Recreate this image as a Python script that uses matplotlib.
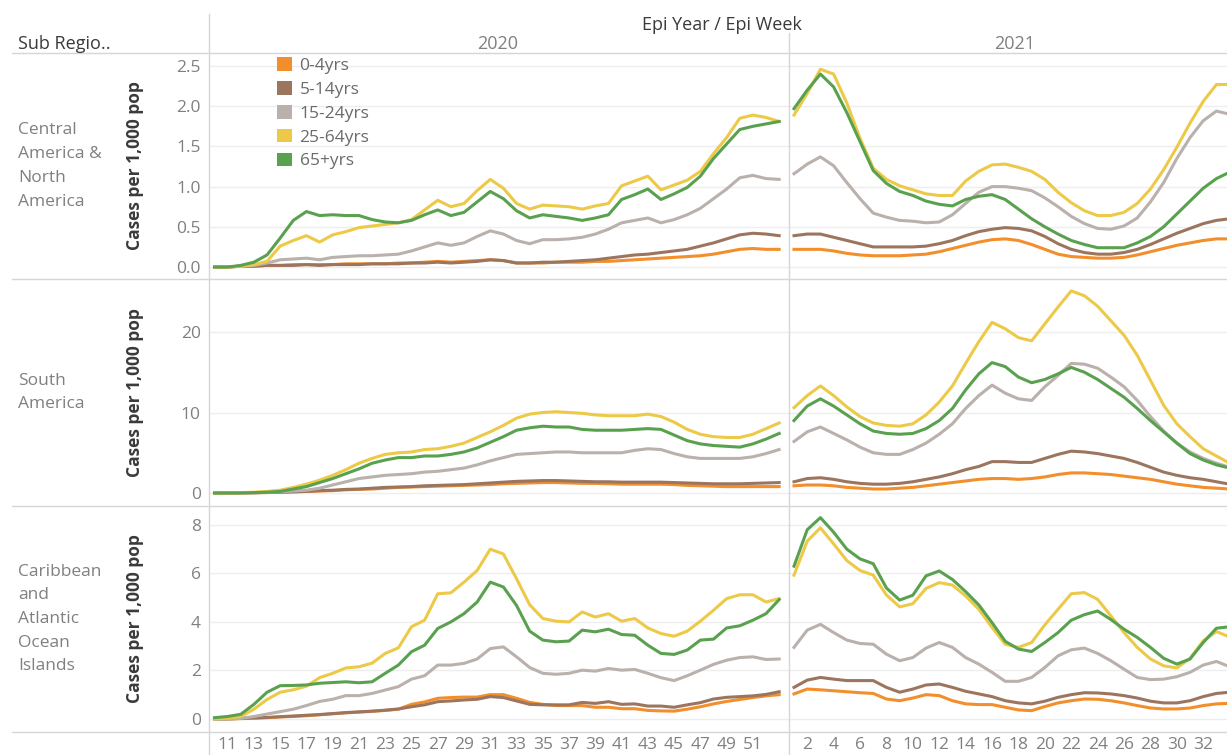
import matplotlib.pyplot as plt
from matplotlib.patches import Patch
from matplotlib.lines import Line2D

# epi weeks shown in each year panel
weeks_2020 = list(range(10, 54))
weeks_2021 = list(range(1, 35))
ticks_2020 = list(range(11, 52, 2))
ticks_2021 = list(range(2, 33, 2))

age_groups = ["0-4yrs", "5-14yrs", "15-24yrs", "25-64yrs", "65+yrs"]
age_colors = ["#F28E2B", "#9C755F", "#BAB0AC", "#EDC948", "#59A14F"]
regions = ["Central\nAmerica &\nNorth\nAmerica", "South\nAmerica",
           "Caribbean\nand\nAtlantic\nOcean\nIslands"]

# Central America & North America, cases per 1,000 pop
cana_2020_a0 = [0.0, 0.0, 0.01, 0.01, 0.02, 0.02, 0.03, 0.03, 0.03, 0.03, 0.04, 0.04, 0.04, 0.04, 0.05,
                0.05, 0.06, 0.07, 0.06, 0.07, 0.08, 0.09, 0.08, 0.05, 0.05, 0.05, 0.06, 0.06, 0.06, 0.07,
                0.07, 0.08, 0.09, 0.10, 0.11, 0.12, 0.13, 0.14, 0.16, 0.19, 0.22, 0.23, 0.22, 0.22]
cana_2020_a5 = [0.0, 0.0, 0.01, 0.01, 0.02, 0.02, 0.02, 0.03, 0.02, 0.03, 0.03, 0.03, 0.04, 0.04, 0.04,
                0.05, 0.05, 0.06, 0.05, 0.06, 0.07, 0.09, 0.08, 0.05, 0.05, 0.06, 0.06, 0.07, 0.08, 0.09,
                0.11, 0.13, 0.15, 0.16, 0.18, 0.20, 0.22, 0.26, 0.30, 0.35, 0.40, 0.42, 0.41, 0.39]
cana_2020_a15 = [0.0, 0.0, 0.01, 0.02, 0.05, 0.09, 0.10, 0.11, 0.09, 0.12, 0.13, 0.14, 0.14, 0.15, 0.16,
                 0.20, 0.25, 0.30, 0.27, 0.30, 0.38, 0.45, 0.41, 0.33, 0.29, 0.34, 0.34, 0.35, 0.37, 0.41,
                 0.47, 0.55, 0.58, 0.61, 0.55, 0.59, 0.65, 0.73, 0.85, 0.97, 1.11, 1.14, 1.10, 1.09]
cana_2020_a25 = [0.0, 0.0, 0.01, 0.03, 0.07, 0.26, 0.33, 0.39, 0.31, 0.40, 0.44, 0.49, 0.51, 0.53, 0.55,
                 0.59, 0.71, 0.83, 0.75, 0.79, 0.95, 1.09, 0.98, 0.79, 0.72, 0.77, 0.76, 0.75, 0.72, 0.76,
                 0.79, 1.01, 1.07, 1.13, 0.96, 1.02, 1.08, 1.19, 1.41, 1.61, 1.85, 1.89, 1.86, 1.81]
cana_2020_a65 = [0.0, 0.0, 0.02, 0.06, 0.15, 0.36, 0.58, 0.69, 0.64, 0.65, 0.64, 0.64, 0.59, 0.56, 0.55,
                 0.58, 0.65, 0.71, 0.64, 0.68, 0.81, 0.94, 0.85, 0.70, 0.61, 0.65, 0.63, 0.61, 0.58, 0.61,
                 0.65, 0.84, 0.90, 0.97, 0.84, 0.91, 0.99, 1.13, 1.35, 1.53, 1.71, 1.75, 1.78, 1.81]
cana_2021_a0 = [0.22, 0.22, 0.22, 0.20, 0.17, 0.15, 0.14, 0.14, 0.14, 0.15, 0.16, 0.19, 0.23, 0.27, 0.31,
                0.34, 0.35, 0.33, 0.28, 0.22, 0.16, 0.13, 0.12, 0.11, 0.11, 0.12, 0.15, 0.19, 0.23, 0.27,
                0.30, 0.33, 0.35, 0.35]
cana_2021_a5 = [0.39, 0.41, 0.41, 0.37, 0.33, 0.29, 0.25, 0.25, 0.25, 0.25, 0.26, 0.29, 0.33, 0.39, 0.44,
                0.47, 0.49, 0.48, 0.45, 0.38, 0.29, 0.22, 0.18, 0.16, 0.16, 0.18, 0.22, 0.28, 0.35, 0.42,
                0.48, 0.54, 0.58, 0.60]
cana_2021_a15 = [1.16, 1.28, 1.37, 1.26, 1.05, 0.85, 0.67, 0.62, 0.58, 0.57, 0.55, 0.56, 0.65, 0.79, 0.93,
                 1.00, 1.00, 0.98, 0.95, 0.86, 0.75, 0.63, 0.54, 0.48, 0.47, 0.51, 0.61, 0.81, 1.05, 1.35,
                 1.61, 1.82, 1.94, 1.90]
cana_2021_a25 = [1.89, 2.16, 2.46, 2.40, 2.04, 1.60, 1.23, 1.09, 1.01, 0.96, 0.91, 0.89, 0.89, 1.07, 1.19,
                 1.27, 1.28, 1.24, 1.19, 1.09, 0.93, 0.80, 0.70, 0.64, 0.64, 0.68, 0.79, 0.97, 1.21, 1.49,
                 1.79, 2.06, 2.27, 2.27]
cana_2021_a65 = [1.97, 2.20, 2.40, 2.24, 1.92, 1.56, 1.20, 1.04, 0.94, 0.89, 0.82, 0.78, 0.76, 0.84, 0.88,
                 0.90, 0.84, 0.72, 0.60, 0.50, 0.41, 0.33, 0.28, 0.24, 0.24, 0.24, 0.30, 0.38, 0.50, 0.66,
                 0.82, 0.98, 1.10, 1.18]

# South America
sa_2020_a0 = [0.0, 0.0, 0.02, 0.04, 0.06, 0.1, 0.15, 0.2, 0.25, 0.3, 0.4, 0.45, 0.5, 0.6, 0.7,
              0.75, 0.8, 0.85, 0.9, 0.95, 1.0, 1.05, 1.15, 1.2, 1.25, 1.3, 1.3, 1.25, 1.2, 1.2,
              1.15, 1.1, 1.1, 1.1, 1.1, 1.05, 0.95, 0.9, 0.85, 0.8, 0.8, 0.8, 0.8, 0.8]
sa_2020_a5 = [0.0, 0.0, 0.02, 0.04, 0.07, 0.1, 0.15, 0.2, 0.3, 0.35, 0.45, 0.5, 0.6, 0.7, 0.75,
              0.8, 0.9, 0.95, 1.0, 1.05, 1.15, 1.25, 1.35, 1.45, 1.5, 1.55, 1.55, 1.5, 1.45, 1.4,
              1.4, 1.35, 1.35, 1.35, 1.35, 1.3, 1.25, 1.2, 1.15, 1.15, 1.15, 1.2, 1.25, 1.3]
sa_2020_a15 = [0.0, 0.0, 0.02, 0.05, 0.1, 0.15, 0.25, 0.35, 0.6, 1.0, 1.4, 1.8, 2.0, 2.2, 2.3,
               2.4, 2.6, 2.7, 2.9, 3.1, 3.5, 4.0, 4.4, 4.8, 4.9, 5.0, 5.1, 5.1, 5.0, 5.0,
               5.0, 5.0, 5.3, 5.5, 5.4, 4.9, 4.5, 4.3, 4.3, 4.3, 4.3, 4.5, 4.9, 5.4]
sa_2020_a25 = [0.0, 0.0, 0.05, 0.1, 0.2, 0.35, 0.7, 1.1, 1.6, 2.2, 2.9, 3.7, 4.3, 4.8, 5.0,
               5.1, 5.4, 5.5, 5.8, 6.2, 6.9, 7.6, 8.4, 9.3, 9.8, 10.0, 10.1, 10.0, 9.9, 9.7,
               9.6, 9.6, 9.6, 9.8, 9.5, 8.8, 7.9, 7.3, 7.0, 6.9, 6.9, 7.3, 8.0, 8.7]
sa_2020_a65 = [0.0, 0.0, 0.02, 0.05, 0.1, 0.2, 0.5, 0.8, 1.3, 1.8, 2.4, 3.0, 3.7, 4.1, 4.4,
               4.4, 4.6, 4.6, 4.8, 5.1, 5.6, 6.3, 7.0, 7.8, 8.1, 8.3, 8.2, 8.2, 7.9, 7.8,
               7.8, 7.8, 7.9, 8.0, 7.9, 7.2, 6.5, 6.1, 5.9, 5.8, 5.7, 6.1, 6.7, 7.4]
sa_2021_a0 = [0.9, 1.0, 1.0, 0.9, 0.7, 0.6, 0.5, 0.5, 0.6, 0.7, 0.9, 1.1, 1.3, 1.5, 1.7,
              1.8, 1.8, 1.7, 1.8, 2.0, 2.3, 2.5, 2.5, 2.4, 2.3, 2.1, 1.9, 1.7, 1.4, 1.1,
              0.9, 0.7, 0.6, 0.5]
sa_2021_a5 = [1.4, 1.8, 1.9, 1.7, 1.4, 1.2, 1.1, 1.1, 1.2, 1.4, 1.7, 2.0, 2.4, 2.9, 3.3,
              3.9, 3.9, 3.8, 3.8, 4.3, 4.8, 5.2, 5.1, 4.9, 4.6, 4.3, 3.8, 3.2, 2.6, 2.2,
              1.9, 1.7, 1.4, 1.1]
sa_2021_a15 = [6.4, 7.6, 8.2, 7.4, 6.6, 5.7, 5.0, 4.8, 4.8, 5.4, 6.2, 7.3, 8.6, 10.5, 12.1,
               13.4, 12.4, 11.7, 11.5, 13.2, 14.6, 16.1, 16.0, 15.5, 14.4, 13.2, 11.5, 9.5, 7.7, 6.2,
               5.1, 4.3, 3.7, 3.2]
sa_2021_a25 = [10.6, 12.1, 13.3, 12.1, 10.7, 9.5, 8.7, 8.4, 8.3, 8.6, 9.7, 11.3, 13.3, 16.1, 18.8,
               21.2, 20.4, 19.3, 18.9, 21.0, 23.1, 25.1, 24.5, 23.2, 21.4, 19.6, 17.1, 14.0, 10.9, 8.6,
               7.0, 5.5, 4.6, 3.7]
sa_2021_a65 = [9.0, 10.8, 11.7, 10.8, 9.7, 8.6, 7.7, 7.4, 7.3, 7.4, 8.0, 9.0, 10.5, 12.8, 14.8,
               16.2, 15.7, 14.4, 13.7, 14.1, 14.8, 15.6, 15.0, 14.1, 13.0, 11.9, 10.5, 9.0, 7.6, 6.2,
               4.9, 4.1, 3.5, 3.1]

# Caribbean and Atlantic Ocean Islands
car_2020_a0 = [0.0, 0.0, 0.01, 0.03, 0.05, 0.08, 0.1, 0.13, 0.17, 0.21, 0.25, 0.28, 0.31, 0.35, 0.4,
               0.6, 0.7, 0.85, 0.88, 0.9, 0.9, 1.0, 1.0, 0.85, 0.68, 0.6, 0.55, 0.55, 0.55, 0.48,
               0.48, 0.42, 0.42, 0.35, 0.33, 0.32, 0.4, 0.5, 0.62, 0.72, 0.8, 0.88, 0.95, 1.0]
car_2020_a5 = [0.0, 0.0, 0.02, 0.04, 0.06, 0.09, 0.12, 0.15, 0.18, 0.22, 0.26, 0.29, 0.32, 0.36, 0.41,
               0.5, 0.58, 0.71, 0.74, 0.78, 0.81, 0.92, 0.88, 0.74, 0.6, 0.58, 0.58, 0.58, 0.68, 0.64,
               0.71, 0.6, 0.62, 0.53, 0.53, 0.48, 0.58, 0.67, 0.82, 0.89, 0.92, 0.95, 1.01, 1.12]
car_2020_a15 = [0.0, 0.0, 0.02, 0.1, 0.2, 0.3, 0.4, 0.55, 0.72, 0.81, 0.96, 0.96, 1.05, 1.19, 1.33,
                1.64, 1.78, 2.22, 2.22, 2.29, 2.47, 2.9, 2.97, 2.56, 2.12, 1.88, 1.84, 1.88, 2.01, 1.97,
                2.08, 2.01, 2.04, 1.88, 1.7, 1.58, 1.78, 2.01, 2.25, 2.42, 2.53, 2.56, 2.45, 2.47]
car_2020_a25 = [0.0, 0.03, 0.1, 0.4, 0.8, 1.1, 1.2, 1.35, 1.7, 1.88, 2.1, 2.15, 2.3, 2.7, 2.93,
                3.8, 4.07, 5.16, 5.2, 5.64, 6.12, 7.0, 6.8, 5.78, 4.71, 4.14, 4.03, 4.0, 4.41, 4.2,
                4.34, 4.03, 4.14, 3.75, 3.52, 3.41, 3.62, 4.03, 4.48, 4.96, 5.12, 5.12, 4.82, 4.96]
car_2020_a65 = [0.05, 0.1, 0.19, 0.6, 1.1, 1.37, 1.38, 1.4, 1.47, 1.5, 1.53, 1.49, 1.53, 1.88, 2.22,
                2.77, 3.04, 3.73, 4.0, 4.34, 4.82, 5.64, 5.44, 4.68, 3.62, 3.25, 3.18, 3.21, 3.66, 3.59,
                3.7, 3.48, 3.45, 3.04, 2.7, 2.66, 2.84, 3.25, 3.29, 3.75, 3.84, 4.07, 4.34, 4.92]
car_2021_a0 = [1.03, 1.23, 1.2, 1.16, 1.12, 1.08, 1.05, 0.82, 0.75, 0.86, 1.0, 0.96, 0.75, 0.62, 0.59,
               0.59, 0.48, 0.37, 0.34, 0.51, 0.66, 0.75, 0.82, 0.81, 0.75, 0.66, 0.55, 0.45, 0.41, 0.41,
               0.45, 0.55, 0.62, 0.64]
car_2021_a5 = [1.3, 1.6, 1.71, 1.64, 1.58, 1.58, 1.58, 1.3, 1.1, 1.23, 1.4, 1.44, 1.3, 1.14, 1.03,
               0.92, 0.75, 0.66, 0.62, 0.73, 0.89, 1.0, 1.08, 1.07, 1.03, 0.96, 0.86, 0.73, 0.66, 0.66,
               0.75, 0.92, 1.05, 1.1]
car_2021_a15 = [2.95, 3.66, 3.9, 3.56, 3.25, 3.11, 3.08, 2.67, 2.4, 2.53, 2.92, 3.15, 2.95, 2.53, 2.26,
                1.92, 1.55, 1.55, 1.71, 2.12, 2.6, 2.85, 2.92, 2.7, 2.4, 2.05, 1.71, 1.62, 1.64, 1.74,
                1.92, 2.22, 2.37, 2.15]
car_2021_a25 = [5.93, 7.33, 7.88, 7.22, 6.53, 6.12, 5.93, 5.11, 4.62, 4.75, 5.38, 5.62, 5.52, 5.07, 4.52,
                3.77, 3.08, 2.95, 3.15, 3.88, 4.52, 5.16, 5.21, 4.93, 4.25, 3.56, 2.95, 2.47, 2.19, 2.1,
                2.5, 3.22, 3.6, 3.38]
car_2021_a65 = [6.3, 7.8, 8.3, 7.7, 7.0, 6.6, 6.4, 5.4, 4.9, 5.1, 5.9, 6.1, 5.75, 5.25, 4.7,
                3.97, 3.2, 2.88, 2.78, 3.15, 3.56, 4.07, 4.3, 4.45, 4.1, 3.7, 3.36, 2.95, 2.5, 2.26,
                2.47, 3.15, 3.74, 3.8]

panels = [
    [[cana_2020_a0, cana_2020_a5, cana_2020_a15, cana_2020_a25, cana_2020_a65],
     [cana_2021_a0, cana_2021_a5, cana_2021_a15, cana_2021_a25, cana_2021_a65]],
    [[sa_2020_a0, sa_2020_a5, sa_2020_a15, sa_2020_a25, sa_2020_a65],
     [sa_2021_a0, sa_2021_a5, sa_2021_a15, sa_2021_a25, sa_2021_a65]],
    [[car_2020_a0, car_2020_a5, car_2020_a15, car_2020_a25, car_2020_a65],
     [car_2021_a0, car_2021_a5, car_2021_a15, car_2021_a25, car_2021_a65]],
]

row_ylim = [(-0.149, 2.662), (-1.61, 26.58), (-0.54, 8.78)]
row_yticks = [[0, 0.5, 1.0, 1.5, 2.0, 2.5], [0, 10, 20], [0, 2, 4, 6, 8]]
row_yfmt = ["{:.1f}", "{:.0f}", "{:.0f}"]

plt.rcParams['font.family'] = ['Open Sans', 'DejaVu Sans']

W, H = 1227, 755
fig = plt.figure(figsize=(W / 100, H / 100), dpi=100)

def fx(px):
    return px / W

def fy(py):
    return 1 - py / H

cols_px = [(209, 789), (789, 1227)]
rows_px = [(53, 279), (279, 506), (506, 732)]
col_weeks = [weeks_2020, weeks_2021]
col_xlim = [(9.58, 53.75), (0.62, 33.8)]
col_ticks = [ticks_2020, ticks_2021]

grey_txt = "#808080"
dark_txt = "#3a3a3a"
rule = "#d6d6d6"

for r in range(3):
    for c in range(2):
        x0, x1 = cols_px[c]
        y0, y1 = rows_px[r]
        ax = fig.add_axes([fx(x0), fy(y1), (x1 - x0) / W, (y1 - y0) / H])
        for k in range(5):
            ax.plot(col_weeks[c], panels[r][c][k], color=age_colors[k], lw=2.2,
                    solid_joinstyle="round", zorder=3)
        ax.set_xlim(*col_xlim[c])
        ax.set_ylim(*row_ylim[r])
        ax.set_yticks(row_yticks[r])
        ax.yaxis.grid(True, color="#eeeeee", lw=1, zorder=0)
        for s in ax.spines.values():
            s.set_visible(False)
        ax.tick_params(length=0, labelcolor=grey_txt, labelsize=12.5)
        if c == 0:
            ax.set_yticklabels([row_yfmt[r].format(v) for v in row_yticks[r]])
            ax.tick_params(axis="y", pad=6)
        else:
            ax.set_yticklabels([])
        ax.set_xticks(col_ticks[c])
        if r == 2:
            ax.tick_params(axis="x", pad=3.5)
        else:
            ax.set_xticklabels([])

# region labels and y titles
for r in range(3):
    y0, y1 = rows_px[r]
    yc = (y0 + y1) / 2
    fig.text(fx(18), fy(yc), regions[r], ha="left", va="center", color=grey_txt,
             fontsize=12.5, linespacing=1.64)
    fig.text(fx(135), fy(yc), "Cases per 1,000 pop", rotation=90, ha="center", va="center",
             color=dark_txt, fontsize=12.5, fontweight="bold")

# headers
fig.text(fx(722), fy(25), "Epi Year / Epi Week", ha="center", va="center", color=dark_txt, fontsize=13)
fig.text(fx(498), fy(44), "2020", ha="center", va="center", color=grey_txt, fontsize=13)
fig.text(fx(1015), fy(44), "2021", ha="center", va="center", color=grey_txt, fontsize=13)
fig.text(fx(18), fy(44), "Sub Regio..", ha="left", va="center", color=dark_txt, fontsize=13)

# table rules
for y in [53, 279, 506, 732]:
    fig.add_artist(Line2D([fx(12), 1], [fy(y), fy(y)], color=rule, lw=1))
fig.add_artist(Line2D([fx(209), fx(209)], [fy(14), 0], color=rule, lw=1))
fig.add_artist(Line2D([fx(789), fx(789)], [fy(33), 0], color=rule, lw=1))

handles = [Patch(facecolor=age_colors[k], edgecolor="none") for k in range(5)]
fig.legend(handles, age_groups, loc="upper left", bbox_to_anchor=(fx(277), fy(57)),
           frameon=False, fontsize=12.5, labelcolor="#6a6a6a", handlelength=0.85,
           handleheight=0.85, handletextpad=0.45, labelspacing=0.4, borderpad=0, borderaxespad=0)

fig.savefig("out.png", dpi=100)
